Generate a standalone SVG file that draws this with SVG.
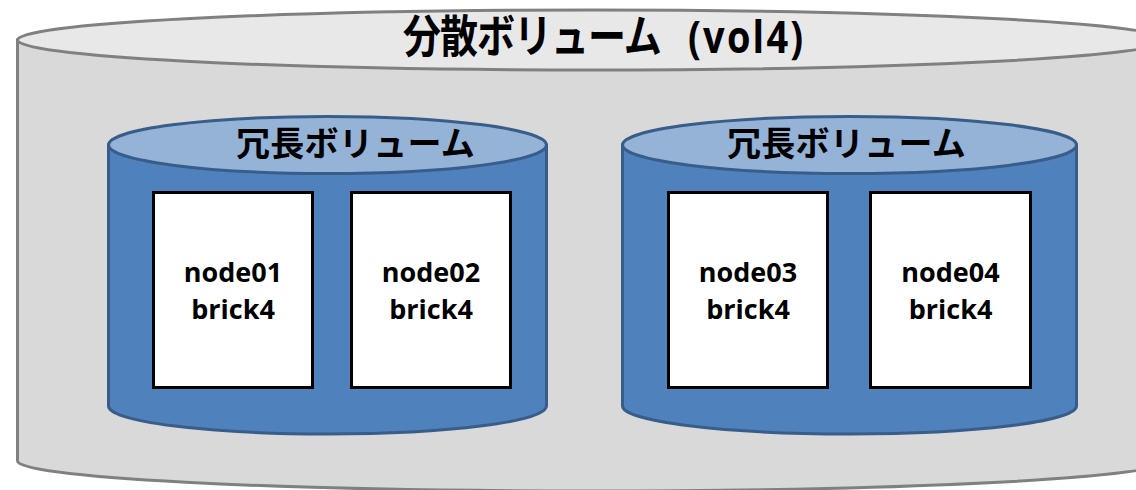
<svg xmlns="http://www.w3.org/2000/svg" width="1136" height="490" viewBox="0 0 1136 490">
<style>
.outerBody{fill:#d9d9d9;stroke:#808080;stroke-width:3}
.outerTop{fill:#e8e8e8;stroke:#808080;stroke-width:3}
.innerBody{fill:#4f81bd;stroke:#385d8a;stroke-width:3}
.innerTop{fill:#95b3d7;stroke:#385d8a;stroke-width:3}
.box{fill:#ffffff;stroke:#000000;stroke-width:3}
.cjk{font-family:"Noto Sans CJK JP","Noto Sans",sans-serif;font-weight:bold;fill:#000}
.lat{font-family:"Open Sans","Noto Sans",sans-serif;font-weight:bold;fill:#000}
.node{font-family:"Open Sans","Noto Sans",sans-serif;font-weight:bold;font-size:27px;fill:#000;text-anchor:middle}
</style>
<rect width="1136" height="490" fill="#ffffff"/>
<g id="distributed-volume">
  <path class="outerBody" d="M17.5,40 V461 A574.5,30 0 0 0 1166.5,461 V40 Z"/>
  <ellipse class="outerTop" cx="592" cy="40" rx="574.5" ry="30"/>
  <text class="cjk" transform="translate(0,52.5) scale(1,1.2)" font-size="38" letter-spacing="-1"><tspan x="403" y="0">分散ボリューム</tspan><tspan class="lat" x="688" y="0" font-size="38" letter-spacing="2.2">(vol4)</tspan></text>
</g>
<g id="replica-volume-1">
  <path class="innerBody" d="M108.5,145 V406 A219,28 0 0 0 546.5,406 V145 Z"/>
  <ellipse class="innerTop" cx="327.5" cy="145" rx="219" ry="28.5"/>
  <text class="cjk" x="236" y="156" font-size="34" letter-spacing="0.3">冗長ボリューム</text>
</g>
<g id="replica-volume-2">
  <path class="innerBody" d="M622.5,145 V406 A227,28 0 0 0 1076.5,406 V145 Z"/>
  <ellipse class="innerTop" cx="849.5" cy="145" rx="227" ry="28.5"/>
  <text class="cjk" x="727" y="156" font-size="34" letter-spacing="0.3">冗長ボリューム</text>
</g>
<g id="node01">
  <rect class="box" x="153.5" y="192.5" width="159" height="195"/>
  <text class="node" x="233" y="282">node01</text>
  <text class="node" x="233" y="319">brick4</text>
</g>
<g id="node02">
  <rect class="box" x="351.5" y="192.5" width="159" height="195"/>
  <text class="node" x="431" y="282">node02</text>
  <text class="node" x="431" y="319">brick4</text>
</g>
<g id="node03">
  <rect class="box" x="668.5" y="192.5" width="159" height="195"/>
  <text class="node" x="748" y="282">node03</text>
  <text class="node" x="748" y="319">brick4</text>
</g>
<g id="node04">
  <rect class="box" x="870.5" y="192.5" width="160" height="195"/>
  <text class="node" x="950.5" y="282">node04</text>
  <text class="node" x="950.5" y="319">brick4</text>
</g>
<g id="connectors"></g>
</svg>
